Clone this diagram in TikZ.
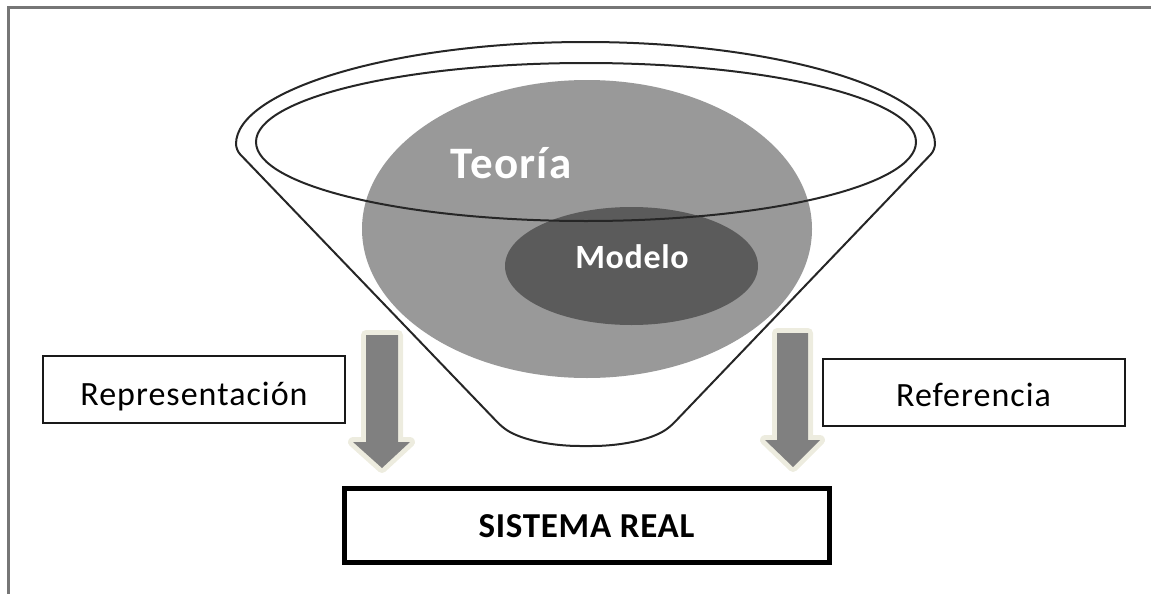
\documentclass[tikz,border=0pt]{standalone}
\usepackage{fontspec}
\setmainfont{Carlito}
\usetikzlibrary{shapes.geometric}
\definecolor{theorygray}{HTML}{999999}
\definecolor{modelgray}{HTML}{5B5B5B}
\definecolor{arrowgray}{HTML}{808080}
\definecolor{glow}{HTML}{EDECDF}
\definecolor{framegray}{HTML}{767676}
\begin{document}
\begin{tikzpicture}[x=0.5pt,y=-0.5pt,
  blob/.style={ellipse, inner sep=0pt, draw=none},
  rim/.style={draw=black!85, line width=1pt},
  labelbox/.style={draw=black!90, line width=1pt, fill=white, inner sep=0pt,
    minimum width=151pt, minimum height=33.5pt,
    font=\fontsize{17}{20}\selectfont\addfontfeatures{LetterSpace=3}, text depth=0pt},
  downarrow/.style={fill=arrowgray,
    preaction={draw=glow, line width=5pt, line join=round}},
  inlabel/.style={anchor=base, text=white, inner sep=0pt}
]
\useasboundingbox (0,0) rectangle (1151,594);

% frame edges
\draw[framegray, line width=1.5pt] (8,594) -- (8,7) -- (1151,7);

% theory and model regions
\node[blob, fill=theorygray, minimum width=225pt, minimum height=149pt] (teoria) at (587,229) {};
\node[blob, fill=modelgray, minimum width=126.5pt, minimum height=59pt] (modelo) at (631.5,266) {};
\node[inlabel, font=\bfseries\fontsize{22.5}{27}\selectfont\addfontfeatures{LetterSpace=3}] (teorialabel) at (511,178) {Teoría};
\node[inlabel, font=\bfseries\fontsize{17}{20}\selectfont\addfontfeatures{LetterSpace=2}] (modelolabel) at (632,268) {Modelo};

% funnel rim and body
\draw[rim] (586,142) ellipse[x radius=330, y radius=79];
\draw[rim, rounded corners=3pt] (236,150) arc[start angle=180, end angle=360, x radius=349.5, y radius=108]
  -- (670,427) .. controls (650,440) and (620,446) .. (586,446)
  .. controls (552,446) and (522,440) .. (502,427) -- cycle;

% block arrows
\path[downarrow] (366,335) -- (398,335) -- (398,442) -- (410,442) -- (382,468)
  -- (353,442) -- (366,442) -- cycle;
\path[downarrow] (777,333) -- (808,333) -- (808,440) -- (820,440) -- (793,467)
  -- (765,440) -- (777,440) -- cycle;

% labelled boxes
\node[labelbox, text height=15.5pt] (representacion) at (194,389.5) {Representación};
\node[labelbox, text height=14pt] (referencia) at (973.5,392.5) {Referencia};
\node[labelbox, draw=black, line width=2.5pt, minimum width=242.5pt, minimum height=37pt,
  font=\bfseries\fontsize{17.5}{21}\selectfont\addfontfeatures{LetterSpace=2}, text height=12pt] (sistema) at (586.5,525) {SISTEMA REAL};
\end{tikzpicture}
\end{document}
